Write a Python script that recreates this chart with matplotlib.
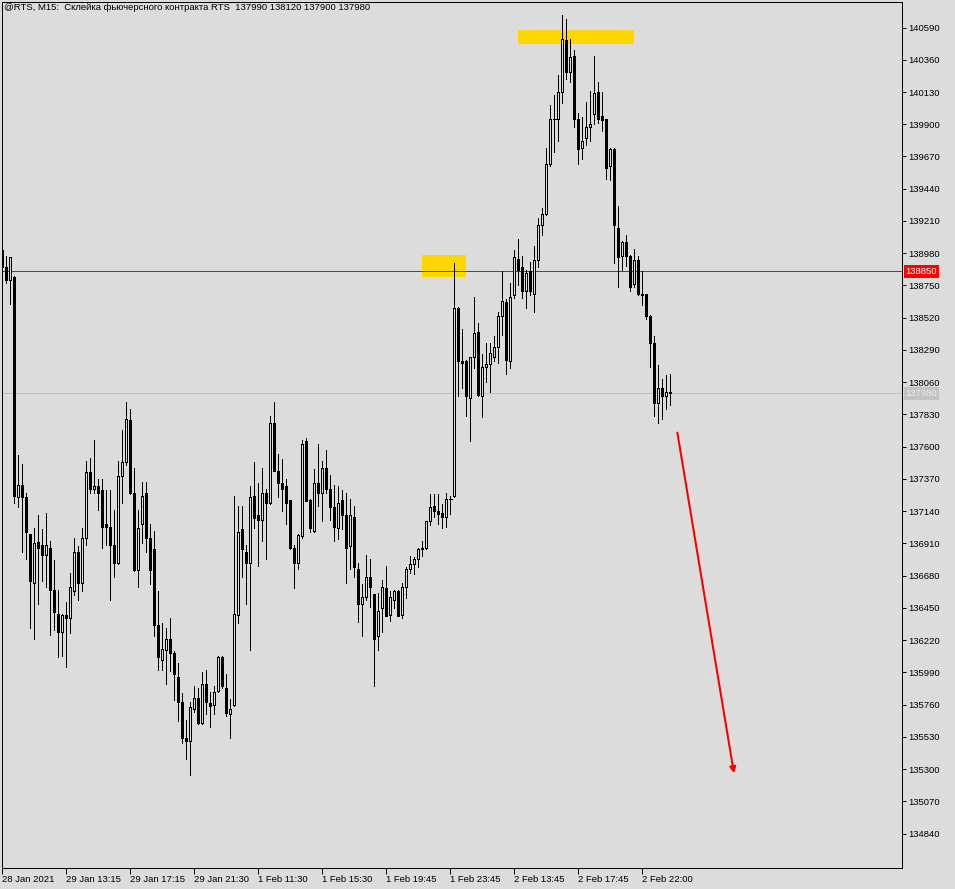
import matplotlib
matplotlib.use('Agg')
import matplotlib.pyplot as plt
from matplotlib.patches import Rectangle

plt.rcParams['font.family'] = ['Liberation Sans', 'DejaVu Sans']

BG = '#dcdcdc'
PX = 0.72  # one pixel in points at dpi 100

# RTS futures, M15 bars
opens = [
    139000, 138880, 138790, 138810, 137240, 137330, 137240, 136980, 136630, 136920,
    136900, 136830, 136880, 136580, 136410, 136280, 136400, 136380, 136570, 136850,
    136630, 136950, 137420, 137300, 137320, 137290, 137050, 137030, 136900, 136770,
    137390, 137490, 137790, 137270, 136720, 137050, 137270, 136950, 136870, 136330,
    136080, 136150, 136230, 136130, 135960, 135780, 135520, 135500, 135730, 135810,
    135630, 135910, 135770, 135760, 135860, 136100, 135880, 135690, 135760, 136400,
    137010, 136850, 136770, 137250, 137110, 137080, 137270, 137200, 137770, 137430,
    137340, 137320, 137220, 136880, 136770, 136960, 137640, 137220, 137000, 137340,
    137270, 137450, 137300, 137170, 137020, 137220, 137110, 136890, 137100, 136730,
    136480, 136530, 136670, 136550, 136250, 136450, 136590, 136400, 136510, 136570,
    136400, 136600, 136730, 136760, 136800, 136880, 136880, 137070, 137180, 137140,
    137130, 137100, 137230, 137250, 138590, 138210, 138210, 137950, 138240, 138420,
    137960, 138170, 138190, 138240, 138310, 138530, 138630, 138210, 138680, 138940,
    138880, 138710, 138850, 138690, 138930, 139180, 139260, 139620, 139940, 139940,
    140130, 140500, 140270, 140390, 139940, 139730, 139800, 139880, 139970, 140130,
    139960, 139940, 139600, 139720, 139160, 138960, 139060, 138960, 138760, 138930,
    138690, 138690, 138530, 138340, 137910, 138020, 137960, 137990,
]
highs = [
    139100, 138960, 138950, 138820, 137540, 137480, 137270, 136980, 137020, 137110,
    137010, 137130, 136930, 136790, 136580, 136410, 136490, 136700, 136950, 136890,
    137020, 137500, 137520, 137650, 137370, 137370, 137290, 137290, 137150, 137500,
    137720, 137920, 137870, 137450, 137150, 137350, 137350, 137050, 137000, 136570,
    136340, 136310, 136380, 136140, 136060, 135840, 135650, 135780, 135890, 135880,
    135990, 136010, 135850, 135890, 136110, 136110, 135980, 135800, 137250, 137180,
    137180, 136900, 137320, 137490, 137340, 137450, 137300, 137820, 137920, 137550,
    137510, 137370, 137220, 136900, 136980, 137650, 137660, 137230, 137440, 137620,
    137500, 137580, 137400, 137330, 137320, 137290, 137270, 137230, 137180, 136770,
    136620, 136830, 136800, 136550, 136560, 136650, 136750, 136570, 136580, 136580,
    136630, 136740, 136820, 136810, 136880, 136930, 137070, 137260, 137260, 137260,
    137190, 137270, 137250, 138910, 138600, 138440, 138220, 138240, 138670, 138480,
    138260, 138340, 138340, 138390, 138560, 138850, 138650, 138770, 139000, 139080,
    138960, 138860, 138920, 139030, 139230, 139300, 139730, 140040, 140110, 140250,
    140680, 140650, 140510, 140430, 139980, 139950, 140060, 140140, 140390, 140200,
    140130, 139940, 139730, 139730, 139320, 139070, 139110, 138970, 139010, 138960,
    138850, 138690, 138540, 138390, 138180, 138080, 138110, 138120,
]
lows = [
    138860, 138770, 138620, 137200, 137170, 136850, 136800, 136310, 136230, 136480,
    136640, 136600, 136260, 136290, 136100, 136110, 136030, 136270, 136540, 136510,
    136570, 136900, 137270, 137270, 137150, 136880, 136900, 136510, 136670, 136760,
    137200, 137470, 137260, 136710, 136600, 136910, 136850, 136620, 136250, 136010,
    136010, 135910, 136000, 135790, 135640, 135490, 135370, 135260, 135710, 135620,
    135620, 135690, 135600, 135690, 135850, 135880, 135680, 135520, 135750, 136340,
    136670, 136480, 136150, 137020, 136750, 136930, 136800, 137190, 137430, 137240,
    137140, 137050, 136870, 136590, 136730, 136950, 137210, 136990, 136990, 137180,
    137070, 137270, 137080, 136930, 136940, 137010, 136630, 136730, 136670, 136350,
    136250, 136510, 136460, 135890, 136150, 136280, 136390, 136360, 136450, 136390,
    136380, 136520, 136700, 136690, 136740, 136820, 136870, 137040, 137100, 137050,
    137020, 137030, 137120, 137240, 137960, 138020, 137820, 137640, 138160, 137960,
    137810, 138060, 137990, 138210, 138200, 138400, 138120, 138160, 138660, 138750,
    138660, 138590, 138680, 138560, 138880, 139110, 139250, 139600, 139700, 139780,
    140050, 140220, 140200, 139880, 139620, 139650, 139750, 139780, 139900, 139910,
    139850, 139510, 139500, 138910, 138740, 138860, 138890, 138710, 138740, 138680,
    138610, 138510, 138170, 137820, 137770, 137800, 137870, 137900,
]
closes = [
    138880, 138790, 138950, 137250, 137330, 137240, 136990, 136640, 136910, 136880,
    136830, 136900, 136580, 136420, 136280, 136400, 136380, 136600, 136850, 136630,
    136950, 137420, 137300, 137320, 137270, 137030, 137030, 136900, 136770, 137390,
    137490, 137800, 137270, 136720, 137020, 137250, 136950, 136720, 136330, 136100,
    136160, 136230, 136130, 135980, 135780, 135520, 135500, 135740, 135810, 135630,
    135910, 135780, 135750, 135850, 136100, 135890, 135700, 135730, 136410, 136990,
    136870, 136770, 137240, 137090, 137080, 137270, 137200, 137770, 137430, 137340,
    137300, 137200, 136880, 136770, 136970, 137620, 137210, 137020, 137340, 137270,
    137450, 137300, 137170, 137030, 137200, 137110, 136880, 137110, 136740, 136480,
    136530, 136670, 136600, 136230, 136430, 136600, 136390, 136530, 136570, 136390,
    136600, 136730, 136760, 136800, 136870, 136870, 137070, 137170, 137140, 137120,
    137100, 137230, 137230, 138590, 138210, 138200, 137960, 138240, 138410, 137970,
    138170, 138190, 138270, 138310, 138530, 138640, 138220, 138670, 138950, 138860,
    138710, 138840, 138710, 138930, 139180, 139260, 139620, 139940, 139940, 140130,
    140510, 140270, 140380, 139940, 139720, 139780, 139880, 139900, 140120, 139940,
    139930, 139590, 139720, 139180, 138950, 139060, 138960, 138740, 138930, 138690,
    138680, 138530, 138340, 137910, 138020, 137960, 137990, 137980,
]

time_labels = ['28 Jan 2021', '29 Jan 13:15', '29 Jan 17:15', '29 Jan 21:30',
               '1 Feb 11:30', '1 Feb 15:30', '1 Feb 19:45', '1 Feb 23:45',
               '2 Feb 13:45', '2 Feb 17:45', '2 Feb 22:00']
time_label_bars = [0, 16, 32, 48, 64, 80, 96, 112, 128, 144, 160]

price_ticks = [140590, 140360, 140130, 139900, 139670, 139440, 139210, 138980,
               138750, 138520, 138290, 138060, 137830, 137600, 137370, 137140,
               136910, 136680, 136450, 136220, 135990, 135760, 135530, 135300,
               135070, 134840]

level_price = 138850
bid_price = 137980

# yellow zones: (first bar, last bar) and (low price, high price)
zone_bars = [(104.9, 115.9), (128.9, 157.9)]
zone_prices = [(138810, 138970), (140470, 140570)]

arrow_from = (168.75, 137700)
arrow_to = (182.9, 135270)

title = '@RTS, M15:  Склейка фьючерсного контракта RTS  137990 138120 137900 137980'

fig = plt.figure(figsize=(9.55, 8.89), dpi=100, facecolor=BG)
ax = fig.add_axes([2 / 955, 21 / 889, 900 / 955, 866 / 889], facecolor=BG)
ax.set_xlim(-0.075, 224.9)
ax.set_ylim(134595, 140772)

for (x0, x1), (y0, y1) in zip(zone_bars, zone_prices):
    ax.add_patch(Rectangle((x0, y0), x1 - x0, y1 - y0, facecolor='#ffd700',
                           edgecolor='none', zorder=1))

ax.axhline(level_price, color='red', lw=PX, zorder=2)
ax.axhline(bid_price, color='#c0c0c0', lw=PX, zorder=2)

# candles, drawn crisp like the terminal does
bars = range(len(opens))
ax.vlines(bars, lows, highs, color='black', lw=PX, zorder=3, antialiased=False)
for i, (o, c) in zip(bars, zip(opens, closes)):
    if o == c:
        ax.hlines(o, i - 0.3, i + 0.3, color='black', lw=PX, zorder=4,
                  antialiased=False)
        continue
    ax.add_patch(Rectangle((i - 0.28, min(o, c)), 0.56, abs(c - o),
                           facecolor='black' if c < o else BG,
                           edgecolor='black', lw=PX, zorder=4,
                           antialiased=False))

ax.annotate('', xy=arrow_to, xytext=arrow_from,
            arrowprops=dict(arrowstyle='-|>', color='red', lw=1.5,
                            mutation_scale=9, shrinkA=0, shrinkB=0), zorder=5)

# price scale on the right
ax.yaxis.tick_right()
ax.set_yticks(price_ticks)
ax.set_yticklabels([str(p) for p in price_ticks])
ax.tick_params(axis='y', direction='out', length=3, width=PX, pad=1.5,
               labelsize=6.8, colors='black')

ytr = ax.get_yaxis_transform()
ax.text(1.004, level_price, str(level_price), transform=ytr, ha='left',
        va='center', fontsize=6.8, color='white', zorder=6, clip_on=False,
        bbox=dict(boxstyle='square,pad=0.2', fc='red', ec='none'))
ax.text(1.004, bid_price, str(bid_price), transform=ytr, ha='left',
        va='center', fontsize=6.8, color='#ebebeb', zorder=6, clip_on=False,
        bbox=dict(boxstyle='square,pad=0.2', fc='#c3c3c3', ec='none'))

# time scale
ax.set_xticks(time_label_bars)
ax.set_xticklabels(time_labels, ha='left')
ax.tick_params(axis='x', direction='out', length=4, width=PX, pad=1,
               labelsize=6.8, colors='black')

for sp in ax.spines.values():
    sp.set_linewidth(PX)
    sp.set_color('black')

fig.text(4 / 955, 1 - 8 / 889, title, fontsize=6.8, ha='left', va='center')

fig.savefig('out.png', dpi=100, facecolor=BG)
